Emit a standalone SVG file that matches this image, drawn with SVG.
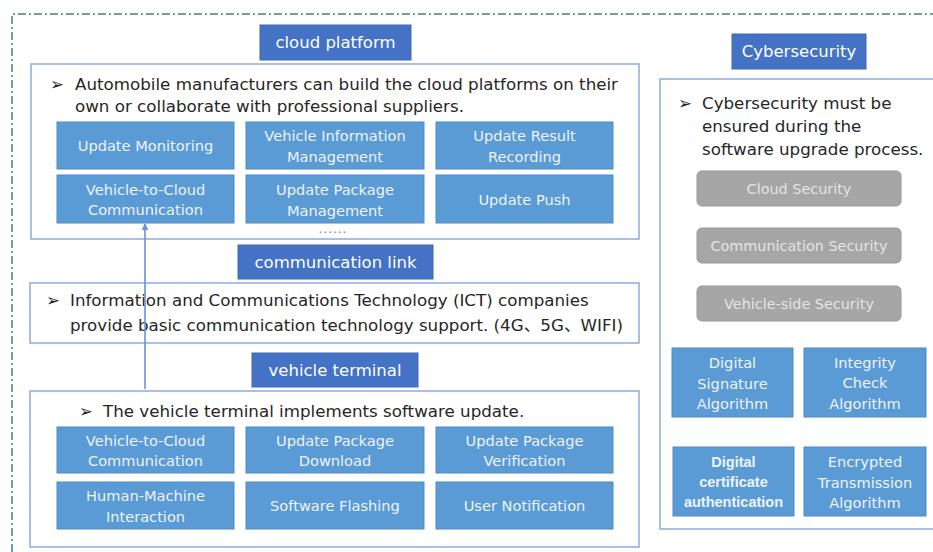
<svg xmlns="http://www.w3.org/2000/svg" width="933" height="552" viewBox="0 0 933 552">
  <defs>
    <marker id="arrowHead" viewBox="0 0 10 10" refX="9" refY="5" markerWidth="7" markerHeight="7" orient="auto" markerUnits="userSpaceOnUse">
      <path d="M0,0 L10,5 L0,10 z" fill="#6f8fd6"/>
    </marker>
    <style>
      text { font-family: "DejaVu Sans", "Noto Sans CJK SC", sans-serif; }
      .frame { fill: none; stroke: #3f8090; stroke-width: 1.5; stroke-dasharray: 8 3 2 3; }
      .panel { fill: #ffffff; stroke: #8eaadf; stroke-width: 1.5; }
      .title { fill: #4472c4; stroke: #3f69b5; stroke-width: 1; }
      .title-text { fill: #ffffff; font-size: 16.5px; text-anchor: middle; }
      .body { fill: #262626; font-size: 16.7px; }
      .cell { fill: #5b9bd5; stroke: #4f8bc7; stroke-width: 1; }
      .cell-text { fill: #edf3fb; font-size: 14.6px; text-anchor: middle; }
      .bold { font-family: "Liberation Sans", Arial, sans-serif; font-weight: bold; font-size: 14.5px; }
      .gray { fill: #a6a6a6; stroke: #989898; stroke-width: 1; }
      .gray-text { fill: #e4e4e4; font-size: 14.4px; text-anchor: middle; }
      .link { stroke: #6f8fd6; stroke-width: 1.6; fill: none; }
    </style>
  </defs>

  <!-- outer dash-dot frame -->
  <path class="frame" d="M12,552 L12,14 L933,14"/>

  <!-- cloud platform -->
  <g id="cloud-platform">
    <rect class="panel" x="31" y="64" width="608" height="175"/>
    <text class="body" x="50" y="90">➢</text>
    <text class="body" x="75" y="90">Automobile manufacturers can build the cloud platforms on their</text>
    <text class="body" x="75" y="112">own or collaborate with professional suppliers.</text>
    <rect class="cell" x="57" y="122" width="177" height="47"/>
    <text class="cell-text" x="145.5" y="151">Update Monitoring</text>
    <rect class="cell" x="246" y="122" width="178" height="47"/>
    <text class="cell-text" x="335" y="141">Vehicle Information</text>
    <text class="cell-text" x="335" y="162">Management</text>
    <rect class="cell" x="436" y="122" width="177" height="47"/>
    <text class="cell-text" x="524.5" y="141">Update Result</text>
    <text class="cell-text" x="524.5" y="162">Recording</text>
    <rect class="cell" x="57" y="175" width="177" height="48"/>
    <text class="cell-text" x="145.5" y="195">Vehicle-to-Cloud</text>
    <text class="cell-text" x="145.5" y="215">Communication</text>
    <rect class="cell" x="246" y="175" width="178" height="48"/>
    <text class="cell-text" x="335" y="195">Update Package</text>
    <text class="cell-text" x="335" y="216">Management</text>
    <rect class="cell" x="436" y="175" width="177" height="48"/>
    <text class="cell-text" x="524.5" y="205">Update Push</text>
    <text x="333" y="233" fill="#5b86c9" font-size="12" letter-spacing="1" text-anchor="middle">......</text>
  </g>
  <g id="cloud-platform-title">
    <rect class="title" x="260" y="25" width="151" height="35"/>
    <text class="title-text" x="335.5" y="48">cloud platform</text>
  </g>

  <!-- communication link -->
  <g id="communication-link-title">
    <rect class="title" x="238" y="245" width="195" height="34"/>
    <text class="title-text" x="335.5" y="268">communication link</text>
  </g>
  <g id="communication-link">
    <rect class="panel" x="30" y="283" width="609" height="60"/>
    <text class="body" x="46" y="306">➢</text>
    <text class="body" x="70" y="306">Information and Communications Technology (ICT) companies</text>
    <text class="body" x="70" y="331">provide basic communication technology support. (4G、5G、WIFI)</text>
  </g>

  <!-- vehicle terminal -->
  <g id="vehicle-terminal-title">
    <rect class="title" x="252" y="353" width="166" height="34"/>
    <text class="title-text" x="335" y="376">vehicle terminal</text>
  </g>
  <g id="vehicle-terminal">
    <rect class="panel" x="30" y="391" width="609" height="156"/>
    <text class="body" x="79" y="417">➢</text>
    <text class="body" x="103" y="417">The vehicle terminal implements software update.</text>
    <rect class="cell" x="57" y="427" width="177" height="46"/>
    <text class="cell-text" x="145.5" y="446">Vehicle-to-Cloud</text>
    <text class="cell-text" x="145.5" y="466">Communication</text>
    <rect class="cell" x="246" y="427" width="178" height="46"/>
    <text class="cell-text" x="335" y="446">Update Package</text>
    <text class="cell-text" x="335" y="466">Download</text>
    <rect class="cell" x="436" y="427" width="177" height="46"/>
    <text class="cell-text" x="524.5" y="446">Update Package</text>
    <text class="cell-text" x="524.5" y="466">Verification</text>
    <rect class="cell" x="57" y="482" width="177" height="47"/>
    <text class="cell-text" x="145.5" y="501">Human-Machine</text>
    <text class="cell-text" x="145.5" y="522">Interaction</text>
    <rect class="cell" x="246" y="482" width="178" height="47"/>
    <text class="cell-text" x="335" y="511">Software Flashing</text>
    <rect class="cell" x="436" y="482" width="177" height="47"/>
    <text class="cell-text" x="524.5" y="511">User Notification</text>
  </g>

  <!-- cybersecurity -->
  <g id="cybersecurity-title">
    <rect class="title" x="732" y="34" width="134" height="35"/>
    <text class="title-text" x="799" y="57">Cybersecurity</text>
  </g>
  <g id="cybersecurity">
    <path class="panel" d="M934,79 L660,79 L660,529 L934,529"/>
    <text class="body" x="678" y="109">➢</text>
    <text class="body" x="702" y="109">Cybersecurity must be</text>
    <text class="body" x="702" y="132">ensured during the</text>
    <text class="body" x="702" y="155">software upgrade process.</text>
    <rect class="gray" x="697" y="171" width="204" height="35" rx="5"/>
    <text class="gray-text" x="799" y="194">Cloud Security</text>
    <rect class="gray" x="697" y="228" width="204" height="35" rx="5"/>
    <text class="gray-text" x="799" y="251">Communication Security</text>
    <rect class="gray" x="697" y="286" width="204" height="35" rx="5"/>
    <text class="gray-text" x="799" y="309">Vehicle-side Security</text>
    <rect class="cell" x="672" y="348" width="121" height="69"/>
    <text class="cell-text" x="732.5" y="368">Digital</text>
    <text class="cell-text" x="732.5" y="389">Signature</text>
    <text class="cell-text" x="732.5" y="409">Algorithm</text>
    <rect class="cell" x="804" y="348" width="122" height="69"/>
    <text class="cell-text" x="865" y="368">Integrity</text>
    <text class="cell-text" x="865" y="388">Check</text>
    <text class="cell-text" x="865" y="409">Algorithm</text>
    <rect class="cell" x="673" y="447" width="121" height="69"/>
    <text class="cell-text bold" x="733.5" y="467">Digital</text>
    <text class="cell-text bold" x="733.5" y="487">certificate</text>
    <text class="cell-text bold" x="733.5" y="507">authentication</text>
    <rect class="cell" x="804" y="447" width="122" height="69"/>
    <text class="cell-text" x="865" y="467">Encrypted</text>
    <text class="cell-text" x="865" y="488">Transmission</text>
    <text class="cell-text" x="865" y="508">Algorithm</text>
  </g>

  <!-- connectors -->
  <g id="connectors">
    <line class="link" x1="145" y1="389" x2="145" y2="224" marker-end="url(#arrowHead)"/>
  </g>
</svg>
